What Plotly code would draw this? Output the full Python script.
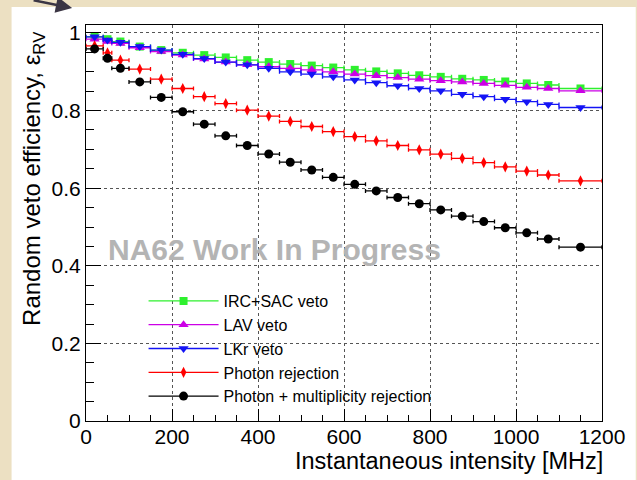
import plotly.graph_objects as go

# ---- data ----
bin_edges = [0, 40, 60, 100, 150, 200, 250, 300, 350, 400, 450, 500, 550, 600,
             650, 700, 750, 800, 850, 900, 950, 1000, 1050, 1100, 1200]

irc_sac = [0.990, 0.984, 0.978, 0.965, 0.956, 0.949, 0.943, 0.937, 0.930, 0.925,
           0.920, 0.916, 0.911, 0.905, 0.901, 0.896, 0.891, 0.887, 0.882, 0.879,
           0.875, 0.870, 0.866, 0.857]
lav = [0.984, 0.978, 0.973, 0.962, 0.952, 0.943, 0.933, 0.925, 0.918, 0.913,
       0.909, 0.905, 0.900, 0.894, 0.890, 0.885, 0.881, 0.877, 0.874, 0.870,
       0.865, 0.860, 0.857, 0.851]
lkr = [0.990, 0.982, 0.976, 0.965, 0.956, 0.945, 0.934, 0.925, 0.918, 0.909,
       0.900, 0.894, 0.887, 0.879, 0.872, 0.864, 0.857, 0.851, 0.842, 0.836,
       0.829, 0.823, 0.816, 0.808]
photon = [0.967, 0.949, 0.930, 0.907, 0.881, 0.857, 0.836, 0.818, 0.801, 0.786,
          0.772, 0.759, 0.746, 0.733, 0.722, 0.710, 0.699, 0.688, 0.677, 0.666,
          0.655, 0.644, 0.634, 0.619]
photon_mult = [0.959, 0.935, 0.909, 0.874, 0.834, 0.797, 0.765, 0.735, 0.710, 0.688,
               0.667, 0.647, 0.628, 0.610, 0.593, 0.576, 0.560, 0.544, 0.528, 0.514,
               0.498, 0.485, 0.469, 0.448]

series_names = ["IRC+SAC veto", "LAV veto", "LKr veto", "Photon rejection",
                "Photon + multiplicity rejection"]
y_err = 0.004

# ---- derived bin centres / half widths ----
centers = [(a + b) / 2 for a, b in zip(bin_edges[:-1], bin_edges[1:])]
half_w = [(b - a) / 2 for a, b in zip(bin_edges[:-1], bin_edges[1:])]

FONT = "Liberation Sans, Arial, Helvetica, sans-serif"

styles = [
    dict(color="#2ef02e", symbol="square", size=8),
    dict(color="#cc00e6", symbol="triangle-up", size=9),
    dict(color="#1414f5", symbol="triangle-down", size=9),
    dict(color="#ff0000", symbol="diamond-tall", size=8),
    dict(color="#000000", symbol="circle", size=9),
]
all_series = [irc_sac, lav, lkr, photon, photon_mult]

fig = go.Figure()
for name, ys, st in zip(series_names, all_series, styles):
    fig.add_trace(go.Scatter(
        x=centers, y=ys, mode="markers", name=name, showlegend=False,
        marker=dict(color=st["color"], symbol=st["symbol"], size=st["size"],
                    line=dict(width=0)),
        error_x=dict(type="data", array=half_w, symmetric=True, color=st["color"],
                     thickness=1.3, width=2),
        error_y=dict(type="constant", value=y_err, color=st["color"],
                     thickness=1, width=0),
    ))

# legend entries
for name, st in zip(series_names, styles):
    fig.add_trace(go.Scatter(
        x=[None], y=[None], mode="lines+markers", name=name,
        marker=dict(color=st["color"], symbol=st["symbol"], size=st["size"]),
        line=dict(color=st["color"], width=1.3),
    ))

axis_common = dict(
    showline=True, linecolor="black", linewidth=1, mirror=True,
    ticks="inside", tickcolor="black", tickwidth=1,
    showgrid=True, gridcolor="#555555", griddash="dot", gridwidth=1,
    zeroline=False,
    tickfont=dict(family=FONT, size=21, color="black"),
)

fig.update_xaxes(range=[0, 1200], dtick=200, tick0=0, ticklen=12,
                 ticklabelstandoff=-3,
                 minor=dict(dtick=50, ticklen=6, tickcolor="black", ticks="inside",
                            showgrid=False),
                 **axis_common)
fig.update_yaxes(range=[0, 1.0206], dtick=0.2, tick0=0, ticklen=15,
                 minor=dict(dtick=0.05, ticklen=7.5, tickcolor="black", ticks="inside",
                            showgrid=False),
                 **axis_common)

W, H = 637, 480
L, R, T, B = 86, 31, 25, 59
pw, ph = W - L - R, H - T - B

def px_x(p):
    return (p - L) / pw

def px_y(p):
    return (H - B - p) / ph

fig.update_layout(
    width=W, height=H,
    margin=dict(l=L, r=R, t=T, b=B, pad=0),
    paper_bgcolor="#ece0c2",
    plot_bgcolor="white",
    font=dict(family=FONT, color="black"),
    legend=dict(x=px_x(144), y=px_y(284), xanchor="left", yanchor="top",
                bgcolor="rgba(0,0,0,0)", font=dict(family=FONT, size=16),
                itemwidth=70, tracegroupgap=0),
    shapes=[dict(type="rect", xref="paper", yref="paper",
                 x0=px_x(11), x1=px_x(640), y0=px_y(483), y1=px_y(7),
                 fillcolor="white", line=dict(width=0), layer="below")],
    annotations=[
        dict(text="Random veto efficiency, ε<sub>RV</sub>", textangle=-90,
             xref="paper", yref="paper", x=px_x(33), y=px_y(29),
             xanchor="center", yanchor="top", showarrow=False,
             font=dict(family=FONT, size=24, color="black")),
        dict(text="Instantaneous intensity [MHz]",
             xref="paper", yref="paper", x=px_x(609), y=px_y(446),
             xanchor="right", yanchor="top", showarrow=False,
             font=dict(family=FONT, size=23.5, color="black")),
        dict(text="<b>NA62 Work In Progress</b>",
             xref="paper", yref="paper", x=px_x(276), y=px_y(249),
             xanchor="center", yanchor="middle", showarrow=False,
             font=dict(family=FONT, size=30, color="#b4b4b4")),
        dict(text="", xref="paper", yref="paper", x=px_x(72), y=px_y(8),
             showarrow=True, arrowhead=2, arrowsize=1.3, arrowwidth=2.5,
             arrowcolor="#3b3644", ax=-40, ay=-14),
    ],
)

fig.write_html("out.html")
